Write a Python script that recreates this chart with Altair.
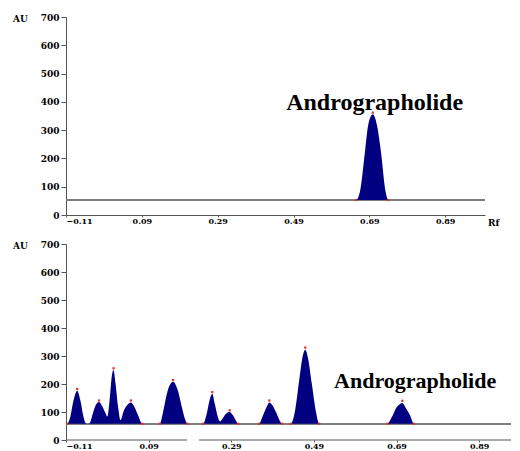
import altair as alt
import pandas as pd

# ---------------- data ----------------
# top chromatogram (standard)
top_rf = [-0.11, 0.655, 0.665, 0.679, 0.687, 0.699, 0.710, 0.720, 0.733, 0.740, 0.995]
top_au = [53, 53, 81, 230, 318, 356, 318, 230, 81, 53, 53]
top_base = 53
top_mark_rf = [0.655, 0.740, 0.699]
top_mark_au = [53, 53, 362]

# bottom chromatogram (extract)
bot_rf = [-0.11, -0.107, -0.100, -0.092, -0.083, -0.075, -0.068, -0.062, -0.058,
          -0.053, -0.045, -0.038, -0.030, -0.022, -0.014, -0.010,
          -0.004, 0.001, 0.005, 0.010, 0.016, 0.022,
          0.030, 0.040, 0.047, 0.055, 0.064, 0.072, 0.076,
          0.117, 0.125, 0.135, 0.149, 0.160, 0.170, 0.178, 0.184,
          0.222, 0.230, 0.238, 0.244, 0.250, 0.257, 0.263,
          0.268, 0.278, 0.286, 0.294, 0.301, 0.307,
          0.357, 0.366, 0.376, 0.382, 0.390, 0.398, 0.407, 0.413,
          0.434, 0.445, 0.455, 0.463, 0.469, 0.476, 0.485, 0.495, 0.503,
          0.668, 0.678, 0.691, 0.698, 0.704, 0.712, 0.722, 0.732, 0.967]
bot_au = [58, 58, 80, 140, 176, 140, 85, 60, 58,
          60, 95, 125, 136, 120, 95, 84,
          150, 230, 250, 200, 120, 71,
          105, 128, 134, 120, 90, 62, 58,
          58, 100, 170, 208, 180, 120, 75, 58,
          58, 90, 145, 165, 130, 85, 66,
          75, 95, 100, 88, 70, 58,
          58, 85, 120, 134, 123, 100, 70, 58,
          58, 110, 220, 300, 322, 290, 200, 100, 58,
          58, 80, 119, 128, 132, 115, 90, 58, 58]
bot_base = 58
bot_mark_rf = [-0.107, 0.075, 0.117, 0.184, 0.222, 0.307, 0.357, 0.413, 0.434, 0.503, 0.668, 0.732,
               -0.083, -0.030, 0.005, 0.047, 0.149, 0.244, 0.286, 0.382, 0.469, 0.704]
bot_mark_au = [58] * 12 + [182, 141, 256, 141, 214, 171, 106, 141, 330, 140]
bot_axis_from = [-0.11, 0.212]
bot_axis_to = [0.183, 0.967]

x_ticks = [-0.11, 0.09, 0.29, 0.49, 0.69, 0.89]
y_ticks = [0, 100, 200, 300, 400, 500, 600, 700]

label = "Andrographolide"
NAVY = "#000080"
LFONT = "DejaVu Serif"


def panel(rf, au, base, mrf, mau, xmax, w, h, lab_x, lab_y, lab_size, show_rf,
          seg_from=None, seg_to=None):
    df = pd.DataFrame({"Rf": rf, "AU": au})
    xs = alt.Scale(domain=[-0.11, xmax], nice=False, zero=False)
    ys = alt.Scale(domain=[0, 700], nice=False)
    xaxis = alt.Axis(values=x_ticks, format=".2f", title=None, grid=False,
                     domain=seg_from is None, tickSize=2, labelPadding=0,
                     labelOverlap=False, labelFontSize=8)
    yaxis = alt.Axis(values=y_ticks, title=None, grid=False, tickSize=5, labelPadding=2,
                     labelOverlap=False)

    def X(f):
        return alt.X(f, scale=xs, axis=xaxis)

    def Y(f):
        return alt.Y(f, scale=ys, axis=yaxis)

    area = alt.Chart(df).mark_area(color=NAVY, interpolate="monotone").encode(
        x=X("Rf:Q"), y=Y("AU:Q"), y2=alt.datum(base),
    )
    baseline = alt.Chart(df).mark_rule(color="#7f7f7f", strokeWidth=1).encode(
        x=alt.XDatum(-0.11, scale=xs, axis=xaxis), x2=alt.datum(xmax),
        y=alt.YDatum(base, scale=ys, axis=yaxis)
    )
    mdf = pd.DataFrame({"Rf": mrf, "AU": mau})
    marks = alt.Chart(mdf).mark_point(shape="square", filled=True, size=5,
                                      color="#e8302a", opacity=1).encode(
        x=X("Rf:Q"), y=Y("AU:Q"))
    txt = alt.Chart(pd.DataFrame({"t": [label]})).mark_text(
        font="Liberation Serif", fontWeight="bold", fontSize=lab_size, color="black"
    ).encode(x=alt.XDatum(lab_x, scale=xs, axis=xaxis),
             y=alt.YDatum(lab_y, scale=ys, axis=yaxis), text="t:N")
    au = alt.Chart(pd.DataFrame({"t": ["AU"]})).mark_text(
        font=LFONT, fontWeight="bold", fontSize=9, align="left", baseline="middle"
    ).encode(x=alt.value(-53), y=alt.value(2), text="t:N")
    layers = [baseline, area, marks, txt, au]
    if show_rf:
        rft = alt.Chart(pd.DataFrame({"t": ["Rf"]})).mark_text(
            font=LFONT, fontWeight="bold", fontSize=9, align="left", baseline="middle"
        ).encode(x=alt.value(w + 3), y=alt.value(h + 8), text="t:N")
        layers.append(rft)
    if seg_from is not None:
        sdf = pd.DataFrame({"a": seg_from, "b": seg_to})
        seg = alt.Chart(sdf).mark_rule(color="#555555", strokeWidth=1).encode(
            x=X("a:Q"), x2="b:Q", y=alt.YDatum(0, scale=ys, axis=yaxis))
        layers.append(seg)
    return alt.layer(*layers).properties(width=w, height=h)


top = panel(top_rf, top_au, top_base, top_mark_rf, top_mark_au, 0.995, 419, 198,
            0.704, 396, 24, True)
bottom = panel(bot_rf, bot_au, bot_base, bot_mark_rf, bot_mark_au, 0.967, 445, 196,
               0.735, 211, 22, False, bot_axis_from, bot_axis_to)

chart = alt.vconcat(top, bottom, spacing=12).properties(
    padding={"left": 5, "top": 5, "right": 0, "bottom": 0}
).configure_view(stroke=None).configure_axis(
    labelFont=LFONT, labelFontWeight="bold", labelFontSize=9, labelColor="black",
    domainColor="#555555", tickColor="#555555"
)

chart.save("out.html", embed_options={"renderer": "svg", "actions": False})
